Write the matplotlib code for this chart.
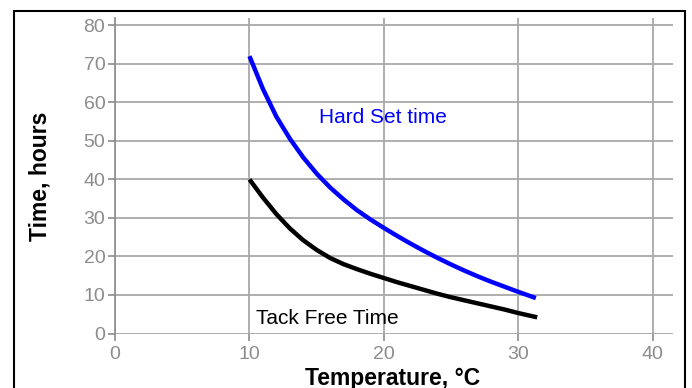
import matplotlib
matplotlib.use("Agg")
import matplotlib.pyplot as plt
from matplotlib.patches import Rectangle

plt.rcParams['font.family'] = ['Liberation Sans', 'DejaVu Sans']

# Data
hard_x = [10, 11, 12, 13, 14, 15, 16, 17, 18, 19, 20, 21, 22, 23, 24, 25, 26, 27, 28, 29, 30, 31.3]
hard_y = [72, 63.5, 56.3, 50.6, 45.7, 41.5, 37.9, 34.8, 32.0, 29.6, 27.4, 25.3, 23.3, 21.4, 19.6, 17.9, 16.3, 14.8, 13.4, 12.1, 10.8, 9.2]

tack_x = [10, 11, 12, 13, 14, 15, 16, 17, 18, 19, 20, 21, 22, 23, 24, 25, 26, 27, 28, 29, 30, 31.4]
tack_y = [40, 35.3, 31.0, 27.3, 24.2, 21.7, 19.6, 18.0, 16.7, 15.5, 14.4, 13.3, 12.3, 11.3, 10.3, 9.4, 8.6, 7.8, 7.0, 6.2, 5.3, 4.2]

x_ticks = [0, 10, 20, 30, 40]
y_ticks = [0, 10, 20, 30, 40, 50, 60, 70, 80]

W, H = 692, 388
fig = plt.figure(figsize=(W / 100, H / 100), dpi=100)

# axes placement in pixels
ax_l, ax_r = 115, 673
ax_t, ax_b = 18, 333.5
ax = fig.add_axes([ax_l / W, 1 - ax_b / H, (ax_r - ax_l) / W, (ax_b - ax_t) / H])

ax.set_xlim(0, 41.5)
ax.set_ylim(0, 81.9)

grid_c = '#a8a8a8'
ax.set_xticks(x_ticks)
ax.set_yticks(y_ticks)
ax.grid(True, color=grid_c, linewidth=1.3)
ax.set_axisbelow(True)
for s in ['top', 'right', 'bottom']:
    ax.spines[s].set_visible(False)
ax.spines['left'].set_color('#8c8c8c')
ax.spines['left'].set_linewidth(1.2)
ax.tick_params(axis='both', colors='#8c8c8c', labelcolor='#8c8c8c',
               length=5, width=1.2, labelsize=14, direction='out')
ax.tick_params(axis='x', pad=4)
ax.tick_params(axis='y', pad=2)

ax.plot(hard_x, hard_y, color='#0000ff', linewidth=3.2, solid_capstyle='butt',
        solid_joinstyle='round')
ax.plot(tack_x, tack_y, color='#000000', linewidth=3.2, solid_capstyle='butt',
        solid_joinstyle='round')

ax.text(15.2, 56, 'Hard Set time', color='#0000ff', fontsize=15, va='center', ha='left')
ax.text(10.5, 4, 'Tack Free Time', color='#000000', fontsize=15, va='center', ha='left')

fig.text(393 / W, 1 - 378 / H, 'Temperature, °C', fontsize=16.5, fontweight='bold',
         ha='center', va='center')
fig.text(40 / W, 1 - 176 / H, 'Time, hours', fontsize=16.5, fontweight='bold',
         ha='center', va='center', rotation=90)

# outer frame
frame = Rectangle((14 / W, -0.1), (685 - 14) / W, (1 - 11 / H) + 0.1,
                  transform=fig.transFigure, fill=False, edgecolor='black',
                  linewidth=1.5, clip_on=False)
fig.patches.append(frame)

fig.savefig('out.png', dpi=100)
